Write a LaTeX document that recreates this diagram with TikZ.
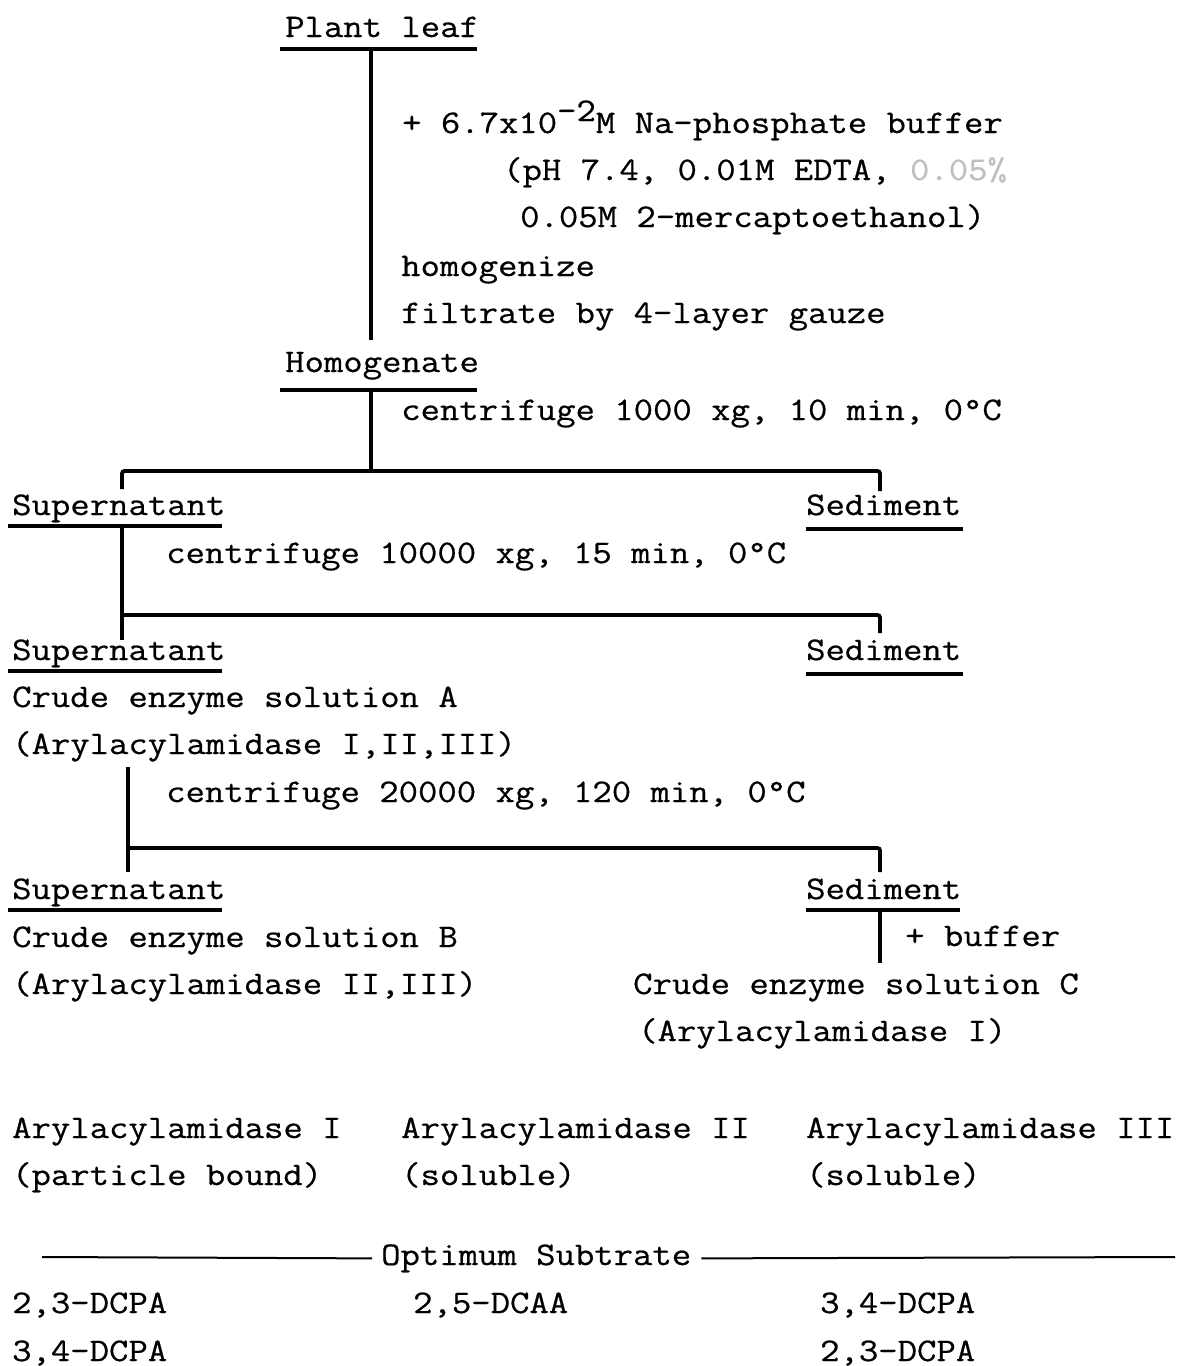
\documentclass[tikz,border=0pt]{standalone}
\usepackage{fontspec}
\newfontfamily\tw[FakeStretch=1.14,FakeBold=0.6]{Latin Modern Mono}
\begin{document}
\begin{tikzpicture}[x=1pt,y=-1pt,
  txt/.style={anchor=base west, inner sep=0pt, font=\tw\fontsize{33}{48}\selectfont},
  uline/.style={line width=4pt},
  flow/.style={line width=3.8pt, rounded corners=2.5pt},
  thin rule/.style={line width=2pt}]
\useasboundingbox[fill=white] (0,0) rectangle (1178,1366);

% ---- texts
\node[txt] (leaf) at (285,37) {Plant leaf};
\node[txt] (t1) at (402,133) {+ 6.7x10\raisebox{12pt}{-2}M Na-phosphate buffer};
\node[txt] (t2) at (503,180) {(pH 7.4, 0.01M EDTA, \textcolor{black!25}{0.05\%}};
\node[txt] (t3) at (520,227) {0.05M 2-mercaptoethanol)};
\node[txt] (t4) at (401,276) {homogenize};
\node[txt] (t5) at (401,323) {filtrate by 4-layer gauze};
\node[txt] (hom) at (285,372) {Homogenate};
\node[txt] (c1) at (401,420) {centrifuge 1000 xg, 10 min, 0°C};
\node[txt] (sup1) at (12,515) {Supernatant};
\node[txt] (sed1) at (806,515) {Sediment};
\node[txt] (c2) at (166,563) {centrifuge 10000 xg, 15 min, 0°C};
\node[txt] (sup2) at (12,660) {Supernatant};
\node[txt] (sed2) at (806,660) {Sediment};
\node[txt] (cra) at (12,707) {Crude enzyme solution A};
\node[txt] (ara) at (12,754) {(Arylacylamidase I,II,III)};
\node[txt] (c3) at (166,802) {centrifuge 20000 xg, 120 min, 0°C};
\node[txt] (sup3) at (12,899) {Supernatant};
\node[txt] (sed3) at (806,899) {Sediment};
\node[txt] (buf) at (905,946) {+ buffer};
\node[txt] (crb) at (12,947) {Crude enzyme solution B};
\node[txt] (arb) at (12,994) {(Arylacylamidase II,III)};
\node[txt] (crc) at (633,994) {Crude enzyme solution C};
\node[txt] (arc) at (638,1041) {(Arylacylamidase I)};
\node[txt] (e1) at (12,1138) {Arylacylamidase I};
\node[txt] (e2) at (401,1138) {Arylacylamidase II};
\node[txt] (e3) at (806,1138) {Arylacylamidase III};
\node[txt] (p1) at (12,1185) {(particle bound)};
\node[txt] (p2) at (401,1185) {(soluble)};
\node[txt] (p3) at (806,1185) {(soluble)};
\node[txt] (opt) at (381,1265) {Optimum Subtrate};
\node[txt] (s11) at (12,1313) {2,3-DCPA};
\node[txt] (s21) at (413,1313) {2,5-DCAA};
\node[txt] (s31) at (820,1313) {3,4-DCPA};
\node[txt] (s12) at (12,1361) {3,4-DCPA};
\node[txt] (s32) at (820,1361) {2,3-DCPA};

% ---- underlines
\draw[uline] (280,49) -- (477,49);
\draw[uline] (280,390) -- (477,390);
\draw[uline] (8,526) -- (222,526);
\draw[uline] (806,529) -- (963,529);
\draw[uline] (8,671) -- (222,671);
\draw[uline] (806,674) -- (963,674);
\draw[uline] (8,910) -- (222,910);
\draw[uline] (806,910) -- (960,910);

% ---- junction coordinates
\coordinate (a0) at (371,49);
\coordinate (a1) at (371,340);
\coordinate (b0) at (371,390);
\coordinate (b1) at (371,471);
\coordinate (bl) at (122,489);
\coordinate (br) at (880,491);
\coordinate (c0) at (122,526);
\coordinate (c1j) at (122,615);
\coordinate (cl) at (122,640);
\coordinate (cr) at (880,633);
\coordinate (d0) at (128,767);
\coordinate (d1) at (128,848);
\coordinate (dl) at (128,872);
\coordinate (dr) at (880,872);
\coordinate (e0) at (880,910);
\coordinate (ee) at (880,963);

% ---- connectors
\draw[flow] (a0) -- (a1);
\draw[flow] (b0) -- (b1);
\draw[flow] (bl) |- (b1) -| (br);
\draw[flow] (c0) -- (cl);
\draw[flow] (c1j) -| (cr);
\draw[flow] (d0) -- (dl);
\draw[flow] (d1) -| (dr);
\draw[flow] (e0) -- (ee);

% ---- optimum substrate rule
\draw[thin rule] (42,1257) -- ([xshift=-9pt]opt.west);
\draw[thin rule] ([xshift=10pt]opt.east) -- (1175,1257);
\end{tikzpicture}
\end{document}
